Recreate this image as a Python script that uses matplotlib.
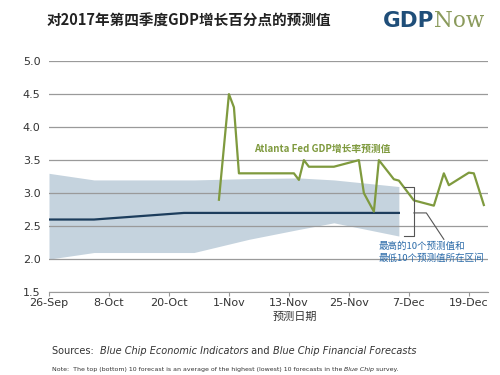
import matplotlib
matplotlib.use("Agg")
import matplotlib.pyplot as plt
import numpy as np
import pandas as pd

plt.rcParams['font.family'] = ['Noto Sans CJK SC', 'DejaVu Sans']

# GDPNow forecast (Atlanta Fed)
nowDates = ["2017-10-30", "2017-11-01", "2017-11-02", "2017-11-03", "2017-11-14", "2017-11-15",
            "2017-11-16", "2017-11-17", "2017-11-22", "2017-11-24", "2017-11-27", "2017-11-28",
            "2017-11-30", "2017-12-01", "2017-12-04", "2017-12-05", "2017-12-08", "2017-12-12",
            "2017-12-14", "2017-12-15", "2017-12-19", "2017-12-20", "2017-12-22"]
nowValues = [2.9, 4.5, 4.3, 3.3, 3.3, 3.2, 3.5, 3.4, 3.4, 3.44, 3.5, 3.0,
             2.72, 3.5, 3.21, 3.19, 2.89, 2.81, 3.3, 3.12, 3.31, 3.3, 2.82]

# Blue Chip consensus and top/bottom 10 band
bandDates = ["2017-09-26", "2017-10-05", "2017-10-23", "2017-10-25", "2017-11-05",
             "2017-11-15", "2017-11-22", "2017-12-05"]
bandTop = [3.3, 3.2, 3.2, 3.2, 3.22, 3.23, 3.2, 3.1]
bandBottom = [2.0, 2.1, 2.1, 2.1, 2.3, 2.45, 2.55, 2.35]
consensus = [2.6, 2.6, 2.7, 2.7, 2.7, 2.7, 2.7, 2.7]

tickDates = ["2017-09-26", "2017-10-08", "2017-10-20", "2017-11-01", "2017-11-13",
             "2017-11-25", "2017-12-07", "2017-12-19"]
tickLabels = ["26-Sep", "8-Oct", "20-Oct", "1-Nov", "13-Nov", "25-Nov", "7-Dec", "19-Dec"]

nowX = pd.to_datetime(nowDates)
bandX = pd.to_datetime(bandDates)

fig = plt.figure(figsize=(5, 3.75), dpi=100)
ax = fig.add_axes([0.098, 0.221, 0.878, 0.616])
renderer = fig.canvas.get_renderer()


def TextRow(x, y, pieces, **kw):
    # draw text pieces one after another on a line, pieces = [(text, style), ...]
    for txt, st in pieces:
        t = fig.text(x, y, txt, style=st, **kw)
        bb = t.get_window_extent(renderer=renderer)
        x += bb.width / (fig.get_figwidth() * fig.dpi)


ax.fill_between(bandX, bandBottom, bandTop, color="#c5d3de", lw=0, zorder=1)
for y in np.arange(1.5, 5.01, 0.5):
    ax.axhline(y, color="#9a9a9a", lw=0.9, zorder=2)
ax.plot(bandX, consensus, color="#1d3d5c", lw=1.6, zorder=3)
ax.plot(nowX, nowValues, color="#7f9a3e", lw=1.6, zorder=4)

ax.set_ylim(1.5, 5.0)
ax.set_xlim(pd.Timestamp("2017-09-26"), pd.Timestamp("2017-12-22 20:00"))
ax.set_yticks(np.arange(1.5, 5.01, 0.5))
ax.set_yticklabels(["%.1f" % v for v in np.arange(1.5, 5.01, 0.5)], fontsize=8, color="#333333",
                   family="DejaVu Sans")
ax.set_xticks(pd.to_datetime(tickDates))
ax.set_xticklabels(tickLabels, fontsize=8, color="#333333", family="DejaVu Sans")
for s in ["top", "right", "left"]:
    ax.spines[s].set_visible(False)
ax.spines["bottom"].set_color("#9a9a9a")
ax.tick_params(axis="y", length=0, pad=6)
ax.tick_params(axis="x", length=3, color="#9a9a9a", pad=1)
ax.set_xlabel("预测日期", fontsize=8, color="#333333", labelpad=1)
ax.xaxis.set_label_coords(0.56, -0.085)

# annotations
ax.text(pd.Timestamp("2017-11-06"), 3.67, "Atlanta Fed GDP增长率预测值", fontsize=7,
        color="#7f9a3e", fontweight="bold", va="center")
bx = pd.Timestamp("2017-12-08")
bl = pd.Timestamp("2017-12-06")
ax.plot([bl, bx, bx, bl], [3.1, 3.1, 2.35, 2.35], color="#555555", lw=0.8, zorder=5)
ax.plot([bx, pd.Timestamp("2017-12-10 12:00"), pd.Timestamp("2017-12-14")],
        [2.7, 2.7, 2.3], color="#555555", lw=0.8, zorder=5)
ax.text(pd.Timestamp("2017-12-01"), 2.1, "最高的10个预测值和\n最低10个预测值所在区间",
        fontsize=6.8, color="#2a6aa8", va="center", linespacing=1.3)

# titles
fig.text(0.094, 0.945, "对2017年第四季度GDP增长百分点的预测值", fontsize=10.5,
         fontweight="bold", color="#222222", va="center")
g = fig.text(0.766, 0.943, "GDP", fontsize=15.5, fontweight="bold", color="#1f4e79",
             va="center", family="DejaVu Sans")
gx = 0.766 + g.get_window_extent(renderer=renderer).width / 500
fig.text(gx, 0.943, "Now", fontsize=15.5, color="#8a9a5b", va="center",
         family="DejaVu Serif")

TextRow(0.104, 0.055, [("Sources:  ", "normal"), ("Blue Chip Economic Indicators", "italic"),
                       (" and ", "normal"), ("Blue Chip Financial Forecasts", "italic")],
        fontsize=7.05, color="#333333", family="DejaVu Sans")
TextRow(0.104, 0.012, [("Note:  The top (bottom) 10 forecast is an average of the highest (lowest) 10 forecasts in the ", "normal"),
                       ("Blue Chip", "italic"), (" survey.", "normal")],
        fontsize=4.5, color="#333333", family="DejaVu Sans")

fig.savefig("out.png", dpi=100, facecolor="white")
